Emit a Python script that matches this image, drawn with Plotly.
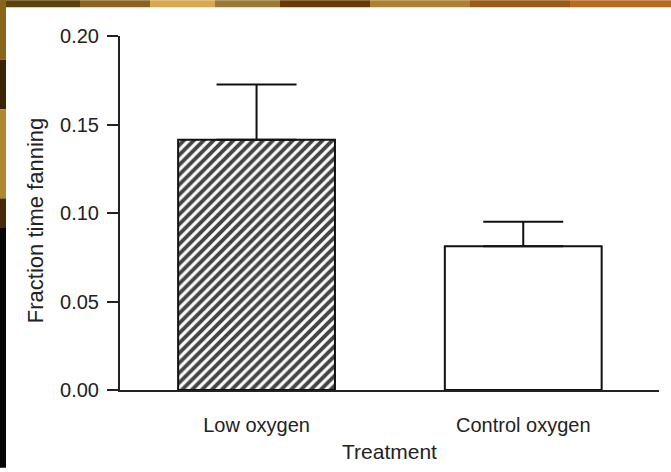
import plotly.graph_objects as go

# Fraction of time spent fanning, by oxygen treatment (mean + SE)
treatments = ["Low oxygen", "Control oxygen"]
fanning = [0.1414, 0.0812]
fanning_se = [0.0312, 0.0138]
y_ticks = [0.00, 0.05, 0.10, 0.15, 0.20]
y_tick_text = ["0.00", "0.05", "0.10", "0.15", "0.20"]

FONT = "Liberation Sans, Arial, Helvetica, sans-serif"
INK = "#222222"

W, H = 671, 472
M_L, M_R, M_T, M_B = 120, 12, 36, 78.5
PLOT_W = W - M_L - M_R
PLOT_H = H - M_T - M_B


def px_to_paper_x(px):
    return (px - M_L) / PLOT_W


def px_to_paper_y(py):
    return (H - M_B - py) / PLOT_H


fig = go.Figure()
fig.add_trace(go.Bar(
    x=treatments,
    y=fanning,
    width=0.588,
    marker=dict(
        color=["white", "white"],
        line=dict(color="#111111", width=2),
        pattern=dict(
            shape=["/", ""],
            fgcolor="#000000",
            fgopacity=1,
            bgcolor="#ffffff",
            size=7,
            solidity=0.55,
        ),
    ),
    error_y=dict(
        type="data",
        array=fanning_se,
        arrayminus=[0, 0],
        symmetric=False,
        color="#111111",
        thickness=2,
        width=40,
    ),
    showlegend=False,
))

# Slide backdrop: warm golden-brown strips along the top and left edges
top_strip = [
    (0, 80, "#5e420c"),
    (80, 150, "#8a6420"),
    (150, 215, "#d8a850"),
    (215, 280, "#9a7a38"),
    (280, 370, "#6a3a06"),
    (370, 470, "#b08032"),
    (470, 570, "#9a5a18"),
    (570, 671, "#b86a20"),
]
for x0, x1, c in top_strip:
    fig.add_shape(type="rect", xref="paper", yref="paper",
                  x0=px_to_paper_x(x0), x1=px_to_paper_x(x1),
                  y0=px_to_paper_y(7), y1=px_to_paper_y(0),
                  fillcolor=c, line=dict(width=0), layer="above")
left_strip = [
    (0, 60, "#8a6418"),
    (60, 110, "#3a2606"),
    (110, 200, "#b08830"),
    (200, 230, "#4a2a06"),
    (230, 472, "#050505"),
]
for y0, y1, c in left_strip:
    fig.add_shape(type="rect", xref="paper", yref="paper",
                  x0=px_to_paper_x(0), x1=px_to_paper_x(6),
                  y0=px_to_paper_y(y1), y1=px_to_paper_y(y0),
                  fillcolor=c, line=dict(width=0), layer="above")

fig.add_annotation(
    text="Fraction time fanning",
    textangle=-90,
    xref="paper", yref="paper",
    x=px_to_paper_x(35), y=px_to_paper_y(223),
    xanchor="center", yanchor="middle",
    showarrow=False,
    font=dict(family=FONT, size=22, color=INK),
)

fig.update_layout(
    width=W,
    height=H,
    margin=dict(l=M_L, r=M_R, t=M_T, b=M_B),
    paper_bgcolor="white",
    plot_bgcolor="white",
    font=dict(family=FONT, size=21, color=INK),
    xaxis=dict(
        range=[-0.512, 1.509],
        showline=True,
        linecolor=INK,
        linewidth=2,
        ticks="",
        showgrid=False,
        zeroline=False,
        ticklabelstandoff=16,
        tickfont=dict(size=20),
        title=dict(text="Treatment", font=dict(size=21), standoff=9),
    ),
    yaxis=dict(
        range=[0, 0.2],
        tickvals=y_ticks,
        ticktext=y_tick_text,
        showline=True,
        linecolor=INK,
        linewidth=2,
        ticks="outside",
        ticklen=11,
        tickwidth=2,
        tickcolor=INK,
        showgrid=False,
        zeroline=False,
        ticklabelstandoff=4,
        tickfont=dict(size=20),
    ),
)

fig.write_html("out.html")
